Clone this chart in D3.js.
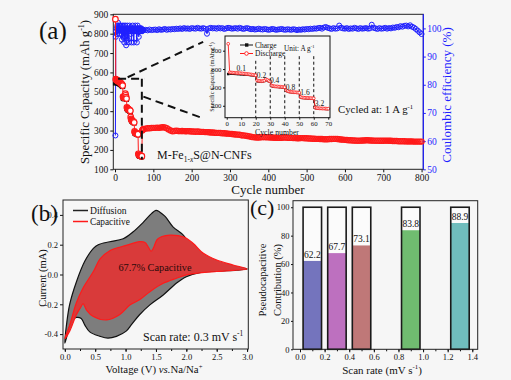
<!DOCTYPE html>
<html>
<head>
<meta charset="utf-8">
<script src="https://cdn.jsdelivr.net/npm/d3@7"></script>
<style>
  html, body { margin: 0; padding: 0; background: #f6f6f6; overflow: hidden; }
</style>
</head>
<body>
<div id="chart-area"></div>
<script>
// ---- panel (a): rate test, cycles 1..70 (also used by the inset) ----
const rateDischarge = [875,
  565, 562, 560, 560, 558, 557, 556, 555, 553, 552, 550, 548, 546, 545, 542, 540, 538, 535, 532,
  475, 472, 470, 468, 470, 475, 490, 482, 472, 465,
  420, 415, 412, 410, 410, 408, 407, 405, 404, 402,
  370, 360, 355, 352, 350, 348, 347, 345, 344, 342,
  295, 290, 288, 287, 286, 285, 284, 283, 282, 281,
  180, 175, 173, 172, 171, 170, 170, 169, 168, 168];
const rateCharge = [545,
  552, 550, 549, 548, 547, 546, 545, 544, 543, 542, 541, 540, 538, 537, 535, 533, 531, 529, 527,
  468, 466, 465, 464, 466, 470, 483, 476, 467, 461,
  414, 410, 408, 406, 406, 404, 403, 401, 400, 398,
  364, 356, 351, 349, 347, 345, 344, 342, 341, 339,
  290, 286, 285, 284, 283, 282, 281, 280, 279, 278,
  176, 172, 170, 169, 168, 167, 167, 166, 165, 165];
const rateCE = [62,
  97, 99, 100, 98, 101, 100, 102, 99, 100, 101, 98, 100, 101, 99, 100, 98, 96, 101, 100,
  97, 99, 101, 95, 100, 97, 101, 99, 94, 100,
  99, 101, 96, 100, 99, 95, 100, 101, 99, 100,
  98, 100, 95, 100, 99, 101, 100, 99, 95, 100,
  99, 100, 101, 99, 100, 99, 95, 100, 101, 99,
  100, 97, 100, 99, 100, 99, 100, 99, 100, 99.5];
const rateLabels = ["0.1", "0.2", "0.4", "0.8", "1.6", "3.2"];
const rateLabelCycle = [10, 24, 33, 44, 54, 64];
const rateLabelCap = [605, 535, 470, 400, 345, 230];
const rateSteps = [20, 30, 40, 50, 60];
const rateStepTop = [690, 740, 740, 740, 740];

// cycles 71..74 after the rate test
const transCycles = [71, 72, 73, 74];
const transCap = [300, 304, 306, 307];
const transCE = [99.0, 99.3, 99.5, 99.4];

// long run at 1 A/g, one reading every 5 cycles (75..800)
const longCap = [308, 310, 312, 312, 313, 314,
  314, 315, 314, 316, 317, 316, 312, 306, 300, 296, 298, 299, 298, 297, 298, 297, 296, 297, 296, 295,
  295, 294, 295, 294, 293, 293, 292, 292, 291, 290, 290, 289, 288, 288, 287, 286, 286, 285, 284, 283,
  282, 281, 280, 279, 278, 276, 275, 274, 272, 270, 268, 266, 265, 264, 264, 265, 266, 266, 265, 265,
  264, 264, 263, 263, 262, 262, 263, 264, 264, 263, 262, 262, 261, 261, 260, 260, 261, 261, 260, 260,
  259, 259, 258, 258, 257, 257, 256, 256, 255, 255, 255, 256, 256, 257, 257, 256, 255, 254, 253, 252,
  251, 250, 250, 249, 249, 248, 248, 248, 249, 249, 250, 250, 249, 249, 248, 248, 248, 247, 247, 247,
  248, 248, 247, 247, 246, 246, 246, 245, 245, 245, 245, 244, 244, 244, 244, 243, 243, 243, 243, 243];
const longCE = [99.4, 99.5, 99.3, 99.6, 99.4, 99.5, 99.6, 99.4, 99.7, 99.5, 99.6, 99.8, 99.5, 99.7, 99.6, 99.8,
  99.7, 99.9, 99.8, 100.0, 99.8, 100.1, 99.9, 100.0, 99.8, 100.1, 100.0, 99.9, 100.2, 100.0, 99.9, 100.1, 99.9, 98.1, 100.0, 100.2,
  100.0, 100.1, 99.9, 100.2, 100.0, 100.1, 99.8, 100.0, 100.2, 100.1, 99.9, 100.0, 100.1, 99.9, 100.2, 100.0, 99.8, 100.0, 100.1, 99.9,
  99.7, 99.8, 99.6, 99.7, 99.9, 99.7, 99.6, 99.8, 99.7, 99.5, 99.6, 99.8, 99.7, 99.5, 99.6, 99.7, 99.8, 99.6, 99.5, 99.7,
  99.6, 99.5, 99.7, 99.6, 99.4, 99.6, 99.5, 99.7, 99.6, 99.8, 99.7, 99.9, 99.8, 100.0, 99.9, 100.1, 100.2, 99.9, 100.3, 100.5,
  100.2, 100.0, 99.8, 100.1, 99.9, 100.0, 101.0, 100.2, 100.0, 99.9, 100.1, 99.8, 100.0, 99.9, 100.2, 100.0, 99.8, 100.1, 99.9, 100.0,
  100.1, 99.9, 100.0, 101.3, 100.2, 100.0, 99.8, 100.1, 99.9, 100.0, 100.2, 99.9, 100.1, 100.0, 100.3, 100.2, 100.5, 100.4, 100.8, 100.6,
  100.9, 101.0, 100.7, 101.1, 100.6, 100.3, 99.8, 99.2, 98.6, 98.0];
const longCycles = d3.range(75, 801, 5);

const capTicks = [100, 200, 300, 400, 500, 600, 700, 800, 900];
const ceTicks = [50, 60, 70, 80, 90, 100];
const cycleTicks = [0, 100, 200, 300, 400, 500, 600, 700, 800];

// dashed zoom guides, in (cycle, capacity)
const zoomGuides = [
  [[33, 575], [230, 758]],
  [[74, 475], [230, 363]],
  [[8, 568], [76, 568]],
  [[70, 568], [70, 150]]
];

// ---- panel (b): CV loops, [voltage, current] ----
const cvTotal = [[0.0, -0.46], [0.03, -0.33], [0.08, -0.2], [0.19, -0.05], [0.33, 0.09], [0.47, 0.175],
  [0.55, 0.2], [0.74, 0.22], [0.96, 0.24], [1.12, 0.285], [1.29, 0.35], [1.43, 0.41], [1.5, 0.43],
  [1.56, 0.42], [1.65, 0.39], [1.78, 0.32], [1.95, 0.264], [2.11, 0.175], [2.33, 0.108], [2.55, 0.075],
  [2.83, 0.05], [3.0, 0.037],
  [2.83, 0.03], [2.5, 0.022], [2.22, 0.012], [2.0, -0.015], [1.84, -0.057], [1.62, -0.137], [1.4, -0.204],
  [1.23, -0.27], [1.1, -0.335], [1.01, -0.38], [0.85, -0.415], [0.71, -0.427], [0.58, -0.415],
  [0.41, -0.385], [0.33, -0.34], [0.27, -0.295], [0.19, -0.288], [0.14, -0.302], [0.08, -0.35], [0.03, -0.42]];
const cvCapacitive = [[0.0, -0.43], [0.08, -0.34], [0.19, -0.19], [0.3, -0.09], [0.47, 0.02], [0.58, 0.105],
  [0.74, 0.16], [1.01, 0.195], [1.23, 0.22], [1.32, 0.215], [1.38, 0.18], [1.42, 0.155], [1.46, 0.18],
  [1.52, 0.235], [1.6, 0.255], [1.73, 0.264], [1.95, 0.253], [2.11, 0.21], [2.28, 0.142], [2.5, 0.097],
  [2.77, 0.064], [3.0, 0.037],
  [2.77, 0.028], [2.5, 0.02], [2.22, 0.011], [2.0, -0.003], [1.84, -0.025], [1.62, -0.059], [1.4, -0.115],
  [1.23, -0.17], [1.07, -0.205], [0.9, -0.27], [0.69, -0.305], [0.47, -0.282], [0.36, -0.24],
  [0.3, -0.195], [0.27, -0.215], [0.19, -0.27], [0.08, -0.38]];
const voltTicks = [0, 0.5, 1.0, 1.5, 2.0, 2.5, 3.0];
const currentTicks = [-0.4, -0.2, 0.0, 0.2, 0.4];

// ---- panel (c): pseudocapacitive contribution ----
const scanRates = [0.1, 0.3, 0.5, 0.9, 1.3];
const pseudoPct = [62.2, 67.7, 73.1, 83.8, 88.9];
const barColors = ["#7474bd", "#bd70bf", "#bf7878", "#70bc70", "#70bdbd"];
const rateTicks = [0, 0.2, 0.4, 0.6, 0.8, 1.0, 1.2, 1.4];
const pctTicks = [0, 20, 40, 60, 80, 100];

const serif = '"Liberation Serif", "Times New Roman", Times, serif';
const RED = "#ff1a1a";
const BLUE = "#1f1fff";

const svg = d3.select("#chart-area")
    .append("svg")
    .attr("width", 511)
    .attr("height", 380)
    .style("font-family", serif);

svg.append("rect").attr("width", 511).attr("height", 380).attr("fill", "#f6f6f6");

styleAxis = (g, color, size) => {
    g.select(".domain").remove();
    g.selectAll(".tick line").attr("stroke", color);
    g.selectAll(".tick text").attr("fill", color)
        .style("font-size", size + "px").style("font-family", serif);
};

// text with sub / superscript / italic pieces
richText = (sel, parts, size) => {
    let shift = 0;
    parts.forEach(p => {
        const t = sel.append("tspan").text(p.t);
        const target = p.sup ? -0.38 * size : (p.sub ? 0.25 * size : 0);
        if (target - shift !== 0) t.attr("dy", target - shift);
        shift = target;
        if (p.sup || p.sub) t.style("font-size", (size * 0.62) + "px");
        if (p.i) t.style("font-style", "italic");
    });
};

label = (x, y, size, parts, opts = {}) => {
    const t = svg.append("text")
        .attr("x", x).attr("y", y)
        .attr("text-anchor", opts.anchor || "start")
        .attr("fill", opts.color || "#111")
        .style("font-size", size + "px");
    if (opts.rotate) {
        t.attr("x", 0).attr("y", 0)
            .attr("transform", `translate(${x},${y}) rotate(${opts.rotate})`);
    }
    richText(t, typeof parts === "string" ? [{t: parts}] : parts, size);
    return t;
};

panelA = () => {
    const x = d3.scaleLinear().domain([-4.5, 804.5]).range([113.3, 423.3]);
    const y = d3.scaleLinear().domain([100, 900]).range([169.3, 14.3]);
    const yCE = d3.scaleLinear().domain([50, 105]).range([169.3, 14.3]);
    const g = svg.append("g");

    g.append("g").attr("transform", "translate(0,169.3)")
        .call(d3.axisBottom(x).tickValues(cycleTicks).tickSize(3).tickPadding(1.5))
        .call(styleAxis, "#111", 9.5);
    g.append("g").attr("transform", "translate(113.3,0)")
        .call(d3.axisLeft(y).tickValues(capTicks).tickSize(3).tickPadding(2))
        .call(styleAxis, "#111", 9.5);
    g.append("g").attr("transform", "translate(423.3,0)")
        .call(d3.axisRight(yCE).tickValues(ceTicks).tickSize(2.5).tickPadding(1.5))
        .call(styleAxis, BLUE, 9.5);

    g.append("rect").attr("x", 113.3).attr("y", 14.3).attr("width", 310).attr("height", 155)
        .attr("fill", "none").attr("stroke", "#222").attr("stroke-width", 1);
    g.append("line").attr("x1", 423.3).attr("x2", 423.3).attr("y1", 14.3).attr("y2", 169.3)
        .attr("stroke", BLUE).attr("stroke-width", 1.2);

    const cePts = rateCE.map((v, i) => [i + 1, v])
        .concat(transCycles.map((c, i) => [c, transCE[i]]))
        .concat(longCycles.map((c, i) => [c, longCE[i]]));
    const capPts = rateDischarge.map((v, i) => [i + 1, v])
        .concat(transCycles.map((c, i) => [c, transCap[i]]))
        .concat(longCycles.map((c, i) => [c, longCap[i]]));
    const chPts = rateCharge.map((v, i) => [i + 1, v]);

    // coulombic efficiency
    g.append("path").datum(cePts)
        .attr("d", d3.line().x(d => x(d[0])).y(d => yCE(d[1])))
        .attr("fill", "none").attr("stroke", BLUE).attr("stroke-width", 1);
    g.selectAll(".ce").data(cePts).enter().append("circle")
        .attr("cx", d => x(d[0])).attr("cy", d => yCE(d[1])).attr("r", 2.5)
        .attr("fill", "none").attr("stroke", BLUE).attr("stroke-width", 1);

    // charge (black squares)
    g.selectAll(".ch").data(chPts).enter().append("rect")
        .attr("x", d => x(d[0]) - 2.5).attr("y", d => y(d[1]) - 2.5)
        .attr("width", 5).attr("height", 5).attr("fill", "#111");

    // discharge
    g.append("path").datum(capPts)
        .attr("d", d3.line().x(d => x(d[0])).y(d => y(d[1])))
        .attr("fill", "none").attr("stroke", RED).attr("stroke-width", 1);
    g.selectAll(".dis").data(capPts).enter().append("circle")
        .attr("cx", d => x(d[0])).attr("cy", d => y(d[1]))
        .attr("r", d => d[0] <= 70 ? 2.8 : 2.6)
        .attr("fill", d => d[0] <= 70 ? "#fff" : "none")
        .attr("stroke", RED).attr("stroke-width", 1.2);

    // zoom guides
    zoomGuides.forEach(seg => {
        g.append("line")
            .attr("x1", x(seg[0][0])).attr("y1", y(seg[0][1]))
            .attr("x2", x(seg[1][0])).attr("y2", y(seg[1][1]))
            .attr("stroke", "#111").attr("stroke-width", 2).attr("stroke-dasharray", "8,5");
    });

    label(39, 39, 25, "(a)");
    label(89, 92, 12.8, [{t: "Specific Capacity (mAh g"}, {t: "-1", sup: true}, {t: ")"}],
        {anchor: "middle", rotate: -90});
    label(268, 193.5, 13, "Cycle number", {anchor: "middle"});
    label(451, 95, 13, "Coulombic efficiency (%)", {anchor: "middle", rotate: -90, color: BLUE});
    label(157, 159, 12, [{t: "M-Fe"}, {t: "1-", sub: true}, {t: "x", sub: true, i: true}, {t: "S@N-CNFs"}]);
    label(338, 113, 10.8, [{t: "Cycled at: 1 A g"}, {t: "-1", sup: true}]);
};

inset = () => {
    const x = d3.scaleLinear().domain([-1.2, 71.2]).range([225, 330]);
    const y = d3.scaleLinear().domain([70, 960]).range([117.7, 36]);
    const g = svg.append("g");

    g.append("rect").attr("x", 225).attr("y", 36).attr("width", 105).attr("height", 81.7)
        .attr("fill", "#f8f8f8");
    g.append("g").attr("transform", "translate(0,117.7)")
        .call(d3.axisBottom(x).tickValues(d3.range(0, 71, 10)).tickSize(2).tickPadding(1))
        .call(styleAxis, "#111", 6.8);
    g.append("g").attr("transform", "translate(225,0)")
        .call(d3.axisLeft(y).tickValues([200, 400, 600, 800]).tickSize(2).tickPadding(1.5))
        .call(styleAxis, "#111", 6.8);

    rateSteps.forEach((c, i) => {
        g.append("line").attr("x1", x(c)).attr("x2", x(c))
            .attr("y1", y(rateStepTop[i])).attr("y2", 117.7)
            .attr("stroke", "#111").attr("stroke-width", 1).attr("stroke-dasharray", "3,2.5");
    });

    const chPts = rateCharge.map((v, i) => [i + 1, v]);
    const disPts = rateDischarge.map((v, i) => [i + 1, v]);
    const line = d3.line().x(d => x(d[0])).y(d => y(d[1]));
    g.append("path").datum(chPts).attr("d", line).attr("fill", "none").attr("stroke", "#111").attr("stroke-width", 0.8);
    g.selectAll(".ich").data(chPts).enter().append("rect")
        .attr("x", d => x(d[0]) - 1.2).attr("y", d => y(d[1]) - 1.2)
        .attr("width", 2.4).attr("height", 2.4).attr("fill", "#111");
    g.append("path").datum(disPts).attr("d", line).attr("fill", "none").attr("stroke", RED).attr("stroke-width", 0.9);
    g.selectAll(".idis").data(disPts).enter().append("circle")
        .attr("cx", d => x(d[0])).attr("cy", d => y(d[1])).attr("r", 1.4)
        .attr("fill", "#fff").attr("stroke", RED).attr("stroke-width", 0.8);

    g.append("rect").attr("x", 225).attr("y", 36).attr("width", 105).attr("height", 81.7)
        .attr("fill", "none").attr("stroke", "#111").attr("stroke-width", 1);

    rateLabels.forEach((t, i) => {
        label(x(rateLabelCycle[i]), y(rateLabelCap[i]) + 2.5, 7.5, t, {anchor: "middle"});
    });

    // legend
    g.append("line").attr("x1", 240).attr("x2", 253).attr("y1", 45).attr("y2", 45).attr("stroke", "#111");
    g.append("rect").attr("x", 245).attr("y", 43.3).attr("width", 3.4).attr("height", 3.4).attr("fill", "#111");
    g.append("line").attr("x1", 240).attr("x2", 253).attr("y1", 53.5).attr("y2", 53.5).attr("stroke", RED);
    g.append("circle").attr("cx", 246.5).attr("cy", 53.5).attr("r", 1.8)
        .attr("fill", "#fff").attr("stroke", RED).attr("stroke-width", 0.9);
    label(255, 47.5, 7.5, "Charge");
    label(255, 56, 7.5, "Discharge");
    label(284, 51, 7.3, [{t: "Unit: A g"}, {t: "-1", sup: true}]);

    label(214, 77, 6.2, [{t: "Specific Capacity (mAh g"}, {t: "-1", sup: true}, {t: ")"}],
        {anchor: "middle", rotate: -90});
    label(277, 134.5, 7.8, "Cycle number", {anchor: "middle"});
};

panelB = () => {
    const x = d3.scaleLinear().domain([-0.03, 3.02]).range([63, 248.3]);
    const y = d3.scaleLinear().domain([-0.5, 0.5]).range([349, 200]);
    const g = svg.append("g");
    const fmt = d => d.toFixed(1);

    g.append("g").attr("transform", "translate(0,349)")
        .call(d3.axisBottom(x).tickValues(d3.range(0, 3.01, 0.25)).tickSize(2).tickFormat(""))
        .call(styleAxis, "#111", 8.5);
    g.append("g").attr("transform", "translate(0,349)")
        .call(d3.axisBottom(x).tickValues(voltTicks).tickSize(3).tickPadding(1.5).tickFormat(fmt))
        .call(styleAxis, "#111", 8.5);
    g.append("g").attr("transform", "translate(63,0)")
        .call(d3.axisLeft(y).tickValues(currentTicks).tickSize(3).tickPadding(2).tickFormat(fmt))
        .call(styleAxis, "#111", 8.5);

    const area = d3.line().x(d => x(d[0])).y(d => y(d[1])).curve(d3.curveCatmullRomClosed.alpha(0.5));
    g.append("path").datum(cvTotal).attr("d", area)
        .attr("fill", "#7d7d7d").attr("stroke", "#111").attr("stroke-width", 1.2);
    g.append("path").datum(cvCapacitive).attr("d", area)
        .attr("fill", "#d93a3a").attr("stroke", RED).attr("stroke-width", 1.2);

    g.append("rect").attr("x", 63).attr("y", 200).attr("width", 185.3).attr("height", 149)
        .attr("fill", "none").attr("stroke", "#222").attr("stroke-width", 1);

    g.append("line").attr("x1", 73).attr("x2", 88).attr("y1", 210.5).attr("y2", 210.5)
        .attr("stroke", "#222").attr("stroke-width", 1.5);
    g.append("line").attr("x1", 73).attr("x2", 88).attr("y1", 221.5).attr("y2", 221.5)
        .attr("stroke", RED).attr("stroke-width", 1.5);
    label(90, 214, 9.6, "Diffusion");
    label(90, 225, 9.3, "Capacitive");

    label(31, 221, 23, "(b)");
    label(155, 271, 10.3, "67.7% Capacitive", {anchor: "middle", color: "#2a0a0a"});
    label(143, 341, 12, [{t: "Scan rate: 0.3 mV s"}, {t: "-1", sup: true}]);
    label(46, 278, 10.5, "Current (mA)", {anchor: "middle", rotate: -90});
    label(154, 373, 10.8, [{t: "Voltage (V) "}, {t: "vs.", i: true}, {t: "Na/Na"}, {t: "+", sup: true}],
        {anchor: "middle"});
};

panelC = () => {
    const x = d3.scaleLinear().domain([-0.057, 1.444]).range([293, 477.7]);
    const y = d3.scaleLinear().domain([0, 104.6]).range([349.3, 200.7]);
    const g = svg.append("g");
    const half = 0.075;

    g.append("g").attr("transform", "translate(0,349.3)")
        .call(d3.axisBottom(x).tickValues(d3.range(0, 1.41, 0.1)).tickSize(2).tickFormat(""))
        .call(styleAxis, "#111", 8.5);
    g.append("g").attr("transform", "translate(0,349.3)")
        .call(d3.axisBottom(x).tickValues(rateTicks).tickSize(3).tickPadding(1.5).tickFormat(d => d.toFixed(1)))
        .call(styleAxis, "#111", 8.5);
    g.append("g").attr("transform", "translate(293,0)")
        .call(d3.axisLeft(y).tickValues(pctTicks).tickSize(2).tickPadding(1.5))
        .call(styleAxis, "#111", 8.5);

    scanRates.forEach((r, i) => {
        const x0 = x(r - half), w = x(r + half) - x(r - half);
        g.append("rect").attr("x", x0).attr("y", y(100)).attr("width", w).attr("height", y(0) - y(100))
            .attr("fill", "#fbfbfb");
        g.append("rect").attr("x", x0).attr("y", y(pseudoPct[i])).attr("width", w)
            .attr("height", y(0) - y(pseudoPct[i])).attr("fill", barColors[i]);
        g.append("rect").attr("x", x0).attr("y", y(100)).attr("width", w).attr("height", y(0) - y(100))
            .attr("fill", "none").attr("stroke", "#1a1a1a").attr("stroke-width", 1.6);
        label(x(r), y(pseudoPct[i]) - 3, 9.5, pseudoPct[i].toFixed(1), {anchor: "middle"});
    });

    g.append("rect").attr("x", 293).attr("y", 200.7).attr("width", 184.7).attr("height", 148.6)
        .attr("fill", "none").attr("stroke", "#222").attr("stroke-width", 1);

    label(250, 215, 22, "(c)");
    label(266, 280, 10.5, "Pseudocapacitive", {anchor: "middle", rotate: -90});
    label(281, 280, 10.5, "Contribution (%)", {anchor: "middle", rotate: -90});
    label(382, 373.5, 11, [{t: "Scan rate (mV s"}, {t: "-1", sup: true}, {t: ")"}], {anchor: "middle"});
};

panelA();
inset();
panelB();
panelC();
</script>
</body>
</html>
